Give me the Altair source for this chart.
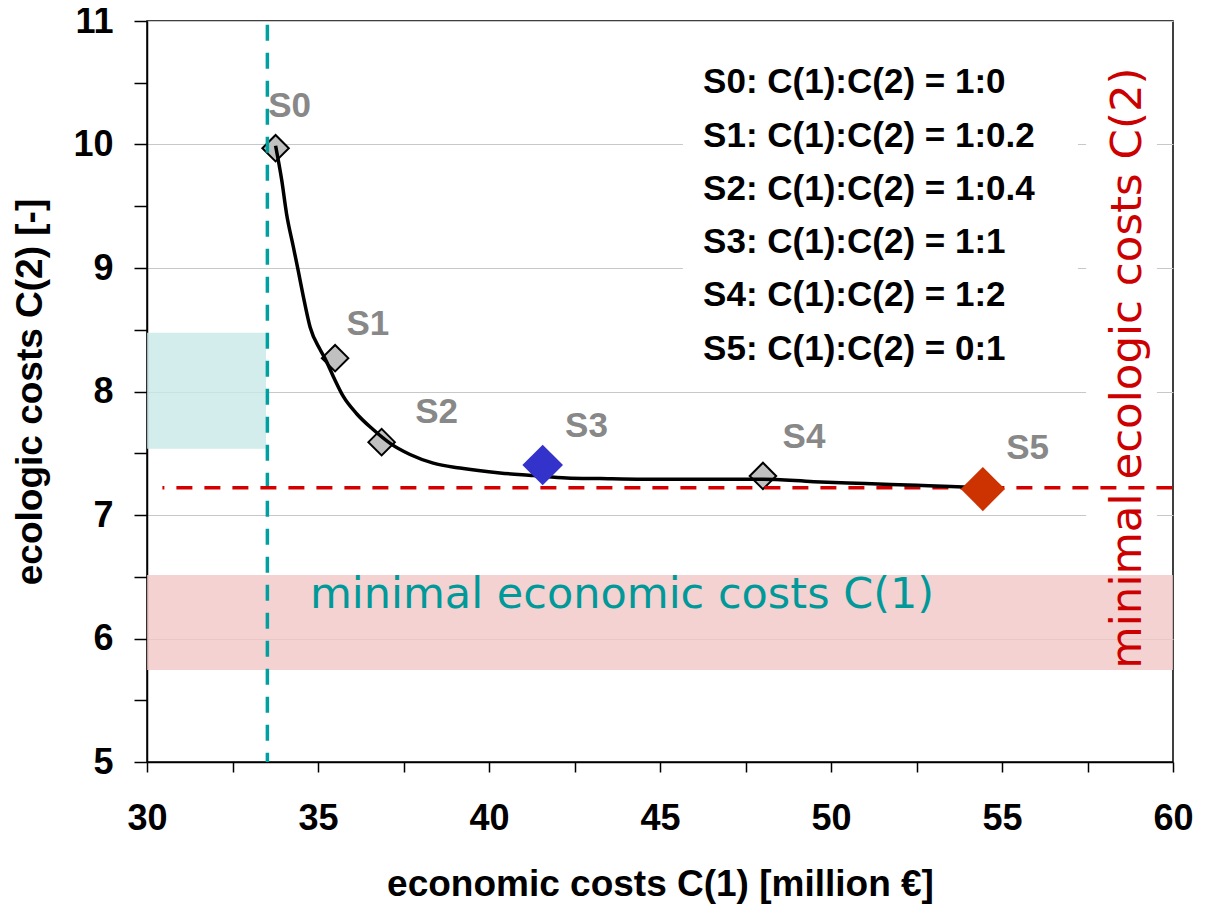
import altair as alt
import pandas as pd

# ---------------- data ----------------
scen = ["S0", "S1", "S2", "S3", "S4", "S5"]
scen_x = [33.76, 35.50, 36.86, 41.57, 48.01, 54.44]
scen_y = [9.97, 8.27, 7.59, 7.405, 7.316, 7.21]
label_x = [34.17, 36.46, 38.47, 42.85, 49.21, 55.75]
label_y = [10.31, 8.55, 7.836, 7.72, 7.632, 7.543]

curve_x = [33.76, 33.94, 34.08, 34.28, 34.42, 34.57, 34.77, 35.06, 35.20, 35.45,
           35.74, 36.13, 36.62, 37.11, 37.69, 38.37, 39.15, 40.32, 41.30, 42.27,
           43.25, 44.5, 46.0, 48.0, 49.5, 51.0, 52.5, 53.5, 54.44]
curve_y = [9.99, 9.71, 9.44, 9.17, 8.98, 8.77, 8.52, 8.34, 8.27, 8.12,
           7.96, 7.82, 7.69, 7.58, 7.49, 7.42, 7.38, 7.34, 7.32, 7.30,
           7.295, 7.29, 7.29, 7.29, 7.27, 7.255, 7.24, 7.23, 7.22]

legend_lines = ["S0: C(1):C(2) = 1:0", "S1: C(1):C(2) = 1:0.2",
                "S2: C(1):C(2) = 1:0.4", "S3: C(1):C(2) = 1:1",
                "S4: C(1):C(2) = 1:2", "S5: C(1):C(2) = 0:1"]

min_econ_x = 33.52      # minimal economic costs C(1)
min_eco_y = 7.22        # minimal ecologic costs C(2)
teal_band = [30, 33.48, 7.537, 8.476]   # x, x2, y, y2
pink_band = [30, 60, 5.745, 6.514]
legend_box = [45.67, 57.22, 8.16, 10.72]
redtext_box = [57.46, 59.53, 6.9, 10.67]

x_ticks = [30 + 2.5 * i for i in range(13)]
y_ticks = [5 + 0.5 * i for i in range(13)]

# ---------------- chart ----------------
FONT = "Liberation Sans"
xs = alt.Scale(domain=[30, 60], nice=False, zero=False)
ys = alt.Scale(domain=[5, 11], nice=False, zero=False)

xaxis = alt.Axis(values=x_ticks, grid=False,
                 labelExpr="datum.value % 5 === 0 ? format(datum.value, 'd') : ''",
                 labelFont=FONT, labelFontWeight="bold", labelFontSize=36, labelColor="black",
                 labelPadding=29, labelFlush=False, labelOverlap=False,
                 tickSize=10, tickColor="black", tickWidth=1.5,
                 domainColor="black", domainWidth=1.5,
                 titleFont=FONT, titleFontWeight="bold", titleFontSize=37, titleColor="black",
                 titlePadding=30)
yaxis = alt.Axis(values=y_ticks, grid=True, gridColor="#c8c8c8", gridWidth=1,
                 gridOpacity={"condition": {"test": "datum.value % 1 === 0", "value": 1}, "value": 0},
                 labelExpr="datum.value % 1 === 0 ? format(datum.value, 'd') : ''",
                 labelFont=FONT, labelFontWeight="bold", labelFontSize=36, labelColor="black",
                 labelPadding=21, labelFlush=False, labelOverlap=False,
                 tickSize=13, tickColor="black", tickWidth=1.5,
                 domainColor="black", domainWidth=1.5,
                 titleFont=FONT, titleFontWeight="bold", titleFontSize=37, titleColor="black",
                 titlePadding=23)
XT = "economic costs C(1) [million €]"
YT = "ecologic costs C(2) [-]"


def X(f):
    return alt.X(f, type="quantitative", scale=xs, axis=xaxis, title=XT)


def Y(f):
    return alt.Y(f, type="quantitative", scale=ys, axis=yaxis, title=YT)


pts = pd.DataFrame({"scenario": scen, "x": scen_x, "y": scen_y, "lx": label_x, "ly": label_y})
curve = pd.DataFrame({"x": curve_x, "y": curve_y})
boxes = pd.DataFrame([
    {"name": "legend", "x": legend_box[0], "x2": legend_box[1], "y": legend_box[2], "y2": legend_box[3]},
    {"name": "redtext", "x": redtext_box[0], "x2": redtext_box[1], "y": redtext_box[2], "y2": redtext_box[3]},
])
bands = pd.DataFrame([
    {"name": "pink", "x": pink_band[0], "x2": pink_band[1], "y": pink_band[2], "y2": pink_band[3]},
    {"name": "teal", "x": teal_band[0], "x2": teal_band[1], "y": teal_band[2], "y2": teal_band[3]},
])

white_boxes = alt.Chart(boxes).mark_rect(color="white").encode(
    x=X("x"), x2="x2", y=Y("y"), y2="y2")

band_layer = alt.Chart(bands).mark_rect(opacity=0.8).encode(
    x=X("x"), x2="x2", y=Y("y"), y2="y2",
    fill=alt.Fill("name:N", scale=alt.Scale(domain=["pink", "teal"], range=["#f3c7c7", "#c8e8e8"]), legend=None))

small_pts = alt.Chart(pts).transform_filter(
    alt.FieldOneOfPredicate(field="scenario", oneOf=["S0", "S1", "S2", "S4"])
).mark_point(shape="diamond", filled=True, fill="#c0c0c0", stroke="black", strokeWidth=2,
             size=700, opacity=1).encode(x=X("x"), y=Y("y"))

teal_line = alt.Chart(pd.DataFrame({"x": [min_econ_x], "y": [10.97], "y2": [5]})).mark_rule(
    color="#00a0a0", strokeWidth=3.5, strokeDash=[16, 12]).encode(x=X("x"), y=Y("y"), y2="y2")

red_line = alt.Chart(pd.DataFrame({"x": [30.45], "x2": [60], "y": [min_eco_y]})).mark_rule(
    color="#d40000", strokeWidth=3.5, strokeDash=[16, 12], strokeDashOffset=14).encode(
    x=X("x"), x2="x2", y=Y("y"))

curve_layer = alt.Chart(curve).mark_line(color="black", strokeWidth=3.5, interpolate="monotone").encode(
    x=X("x"), y=Y("y"))

big_pts = alt.Chart(pts).transform_filter(
    alt.FieldOneOfPredicate(field="scenario", oneOf=["S3", "S5"])
).mark_point(shape="diamond", filled=True, opacity=1, strokeWidth=0).encode(
    x=X("x"), y=Y("y"),
    color=alt.Color("scenario:N", scale=alt.Scale(domain=["S3", "S5"], range=["#3333cc", "#cc3300"]), legend=None),
    size=alt.Size("scenario:N", scale=alt.Scale(domain=["S3", "S5"], range=[1650, 1950]), legend=None))

s_labels = alt.Chart(pts).mark_text(font=FONT, fontWeight="bold", fontSize=35, color="#888888",
                                    baseline="middle", align="center").encode(
    x=X("lx"), y=Y("ly"), text="scenario:N")

legend_text = alt.Chart(pd.DataFrame({"x": [46.26], "y": [10.415], "t": ["\n".join(legend_lines)]})).mark_text(
    font=FONT, fontWeight="bold", fontSize=35, color="black", align="left", baseline="alphabetic",
    lineBreak="\n", lineHeight=53.3).encode(x=X("x"), y=Y("y"), text="t:N")

econ_text = alt.Chart(pd.DataFrame({"x": [43.89], "y": [6.35], "t": ["minimal economic costs C(1)"]})).mark_text(
    font="DejaVu Sans", fontSize=43, color="#009999", align="center", baseline="middle").encode(
    x=X("x"), y=Y("y"), text="t:N")

eco_text = alt.Chart(pd.DataFrame({"x": [58.68], "y": [8.19], "t": ["minimal ecologic costs C(2)"]})).mark_text(
    font="DejaVu Sans", fontSize=43.5, color="#cc0000", align="center", baseline="middle", angle=270).encode(
    x=X("x"), y=Y("y"), text="t:N")

chart = alt.layer(
    white_boxes, band_layer, small_pts, teal_line, red_line, curve_layer, big_pts,
    s_labels, legend_text, econ_text, eco_text
).resolve_scale(
    color="independent", fill="independent", size="independent"
).properties(
    width=1026, height=741,
    autosize=alt.AutoSizeParams(type="none"),
    padding={"left": 139, "top": 13, "right": 26, "bottom": 146},
    background="white",
).configure_view(stroke="black", strokeWidth=1.5)

chart.save("out.html", embed_options={"renderer": "svg", "actions": False})
